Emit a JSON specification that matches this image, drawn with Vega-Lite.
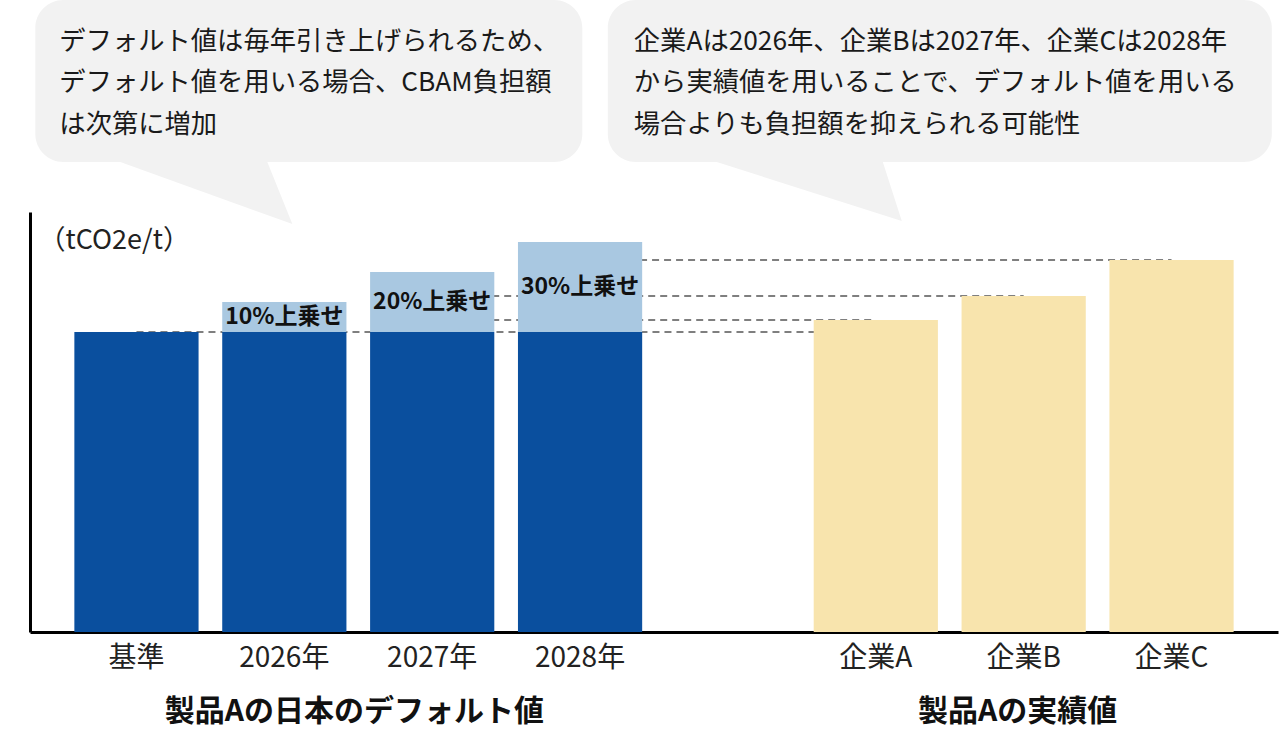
{
  "$schema": "https://vega.github.io/schema/vega-lite/v6.json",
  "width": 1248,
  "height": 420,
  "autosize": {"type": "none"},
  "padding": {"left": 30, "top": 212, "right": 2, "bottom": 117},
  "background": "#ffffff",
  "config": {
    "view": {"stroke": null},
    "font": "Noto Sans CJK JP",
    "axisX": {"domainColor": "#000000", "domainWidth": 3, "ticks": false, "grid": false, "labelFontSize": 28, "labelColor": "#222222", "labelPadding": 12, "labelAngle": 0, "labelFont": "Noto Sans CJK JP"},
    "axisY": {"domainColor": "#000000", "domainWidth": 3, "ticks": false, "grid": false, "labels": false, "titleAngle": 0, "titleAlign": "left", "titleBaseline": "middle", "titleX": 8, "titleY": 28, "titleFontSize": 27, "titleFontWeight": "normal", "titleColor": "#222222", "titleFont": "Noto Sans CJK JP"}
  },
  "datasets": {
    "bars": [
      {"item": "基準", "part": "base", "value": 100},
      {"item": "2026年", "part": "base", "value": 100},
      {"item": "2026年", "part": "markup", "value": 10, "label": "10%上乗せ"},
      {"item": "2027年", "part": "base", "value": 100},
      {"item": "2027年", "part": "markup", "value": 20, "label": "20%上乗せ"},
      {"item": "2028年", "part": "base", "value": 100},
      {"item": "2028年", "part": "markup", "value": 30, "label": "30%上乗せ"},
      {"item": "企業A", "part": "actual", "value": 104},
      {"item": "企業B", "part": "actual", "value": 112},
      {"item": "企業C", "part": "actual", "value": 124}
    ],
    "guides": [
      {"from": "基準", "to": "企業A", "value": 100},
      {"from": "2027年", "to": "企業A", "value": 104},
      {"from": "2027年", "to": "企業B", "value": 112},
      {"from": "2028年", "to": "企業C", "value": 124}
    ]
  },
  "layer": [
    {
      "data": {"name": "guides"},
      "mark": {"type": "rule", "strokeDash": [7, 5], "stroke": "#555555", "strokeWidth": 1.5},
      "encoding": {
        "x": {"field": "from", "type": "nominal", "title": null, "scale": {"domain": ["基準", "2026年", "2027年", "2028年", " ", "企業A", "企業B", "企業C"], "paddingInner": 0.16, "paddingOuter": 0.3}},
        "x2": {"field": "to"},
        "y": {"field": "value", "type": "quantitative", "title": "（tCO2e/t）", "scale": {"domain": [0, 140]}}
      }
    },
    {
      "data": {"name": "bars"},
      "mark": {"type": "bar"},
      "encoding": {
        "x": {"field": "item", "type": "nominal", "title": null, "scale": {"domain": ["基準", "2026年", "2027年", "2028年", " ", "企業A", "企業B", "企業C"], "paddingInner": 0.16, "paddingOuter": 0.3}},
        "y": {"field": "value", "type": "quantitative", "title": "（tCO2e/t）", "scale": {"domain": [0, 140]}},
        "color": {"field": "part", "type": "nominal", "legend": null, "scale": {"domain": ["base", "markup", "actual"], "range": ["#0a4f9e", "#a9c8e1", "#f8e4ad"]}},
        "order": {"field": "part", "sort": "ascending"}
      }
    },
    {
      "data": {"name": "bars"},
      "transform": [
        {"stack": "value", "groupby": ["item"], "sort": [{"field": "part", "order": "ascending"}], "as": ["v0", "v1"]},
        {"filter": "datum.label != null"},
        {"calculate": "(datum.v0 + datum.v1) / 2", "as": "mid"}
      ],
      "mark": {"type": "text", "fontSize": 23, "fontWeight": "bold", "color": "#111111", "align": "center", "baseline": "middle"},
      "encoding": {
        "x": {"field": "item", "type": "nominal", "title": null, "scale": {"domain": ["基準", "2026年", "2027年", "2028年", " ", "企業A", "企業B", "企業C"], "paddingInner": 0.16, "paddingOuter": 0.3}},
        "y": {"field": "mid", "type": "quantitative", "title": "（tCO2e/t）", "scale": {"domain": [0, 140]}},
        "text": {"field": "label"}
      }
    },
    {
      "data": {"values": [{}]},
      "mark": {"type": "point", "shape": "M -221,-224 H 270 A 28 28 0 0 1 298,-196 V -90 A 28 28 0 0 1 270,-62 H -17 L 8,0 L -164,-62 H -221 A 28 28 0 0 1 -249,-90 V -196 A 28 28 0 0 1 -221,-224 Z", "size": 4, "filled": true, "fill": "#f2f2f2", "strokeWidth": 0, "opacity": 1},
      "encoding": {
        "x": {"datum": "2026年", "type": "nominal", "title": null, "scale": {"domain": ["基準", "2026年", "2027年", "2028年", " ", "企業A", "企業B", "企業C"], "paddingInner": 0.16, "paddingOuter": 0.3}},
        "y": {"datum": 136, "type": "quantitative", "title": "（tCO2e/t）", "scale": {"domain": [0, 140]}}
      }
    },
    {
      "data": {"values": [{}]},
      "mark": {"type": "point", "shape": "M -240,-221 H 368 A 28 28 0 0 1 396,-193 V -87 A 28 28 0 0 1 368,-59 H 7 L 26,0 L -159,-59 H -240 A 28 28 0 0 1 -268,-87 V -193 A 28 28 0 0 1 -240,-221 Z", "size": 4, "filled": true, "fill": "#f2f2f2", "strokeWidth": 0, "opacity": 1},
      "encoding": {
        "x": {"datum": "企業A", "type": "nominal", "title": null, "scale": {"domain": ["基準", "2026年", "2027年", "2028年", " ", "企業A", "企業B", "企業C"], "paddingInner": 0.16, "paddingOuter": 0.3}},
        "y": {"datum": 137, "type": "quantitative", "title": "（tCO2e/t）", "scale": {"domain": [0, 140]}}
      }
    },
    {
      "data": {"values": [{}]},
      "mark": {"type": "text", "text": ["デフォルト値は毎年引き上げられるため、", "デフォルト値を用いる場合、CBAM負担額", "は次第に増加"], "fontSize": 26.3, "lineHeight": 41.5, "align": "left", "baseline": "middle", "dx": -225, "color": "#1a1a1a"},
      "encoding": {
        "x": {"datum": "2026年", "type": "nominal", "title": null, "scale": {"domain": ["基準", "2026年", "2027年", "2028年", " ", "企業A", "企業B", "企業C"], "paddingInner": 0.16, "paddingOuter": 0.3}},
        "y": {"datum": 196.7, "type": "quantitative", "title": "（tCO2e/t）", "scale": {"domain": [0, 140]}}
      }
    },
    {
      "data": {"values": [{}]},
      "mark": {"type": "text", "text": ["企業Aは2026年、企業Bは2027年、企業Cは2028年", "から実績値を用いることで、デフォルト値を用いる", "場合よりも負担額を抑えられる可能性"], "fontSize": 26.3, "lineHeight": 41.5, "align": "left", "baseline": "middle", "dx": -242, "color": "#1a1a1a"},
      "encoding": {
        "x": {"datum": "企業A", "type": "nominal", "title": null, "scale": {"domain": ["基準", "2026年", "2027年", "2028年", " ", "企業A", "企業B", "企業C"], "paddingInner": 0.16, "paddingOuter": 0.3}},
        "y": {"datum": 196.7, "type": "quantitative", "title": "（tCO2e/t）", "scale": {"domain": [0, 140]}}
      }
    },
    {
      "data": {"values": [{}]},
      "mark": {"type": "text", "text": "製品Aの日本のデフォルト値", "fontSize": 30, "fontWeight": "bold", "align": "center", "baseline": "middle", "dx": 70, "color": "#111111"},
      "encoding": {
        "x": {"datum": "2026年", "type": "nominal", "title": null, "scale": {"domain": ["基準", "2026年", "2027年", "2028年", " ", "企業A", "企業B", "企業C"], "paddingInner": 0.16, "paddingOuter": 0.3}},
        "y": {"datum": -26.7, "type": "quantitative", "title": "（tCO2e/t）", "scale": {"domain": [0, 140]}}
      }
    },
    {
      "data": {"values": [{}]},
      "mark": {"type": "text", "text": "製品Aの実績値", "fontSize": 30, "fontWeight": "bold", "align": "center", "baseline": "middle", "dx": -6, "color": "#111111"},
      "encoding": {
        "x": {"datum": "企業B", "type": "nominal", "title": null, "scale": {"domain": ["基準", "2026年", "2027年", "2028年", " ", "企業A", "企業B", "企業C"], "paddingInner": 0.16, "paddingOuter": 0.3}},
        "y": {"datum": -26.7, "type": "quantitative", "title": "（tCO2e/t）", "scale": {"domain": [0, 140]}}
      }
    }
  ]
}
